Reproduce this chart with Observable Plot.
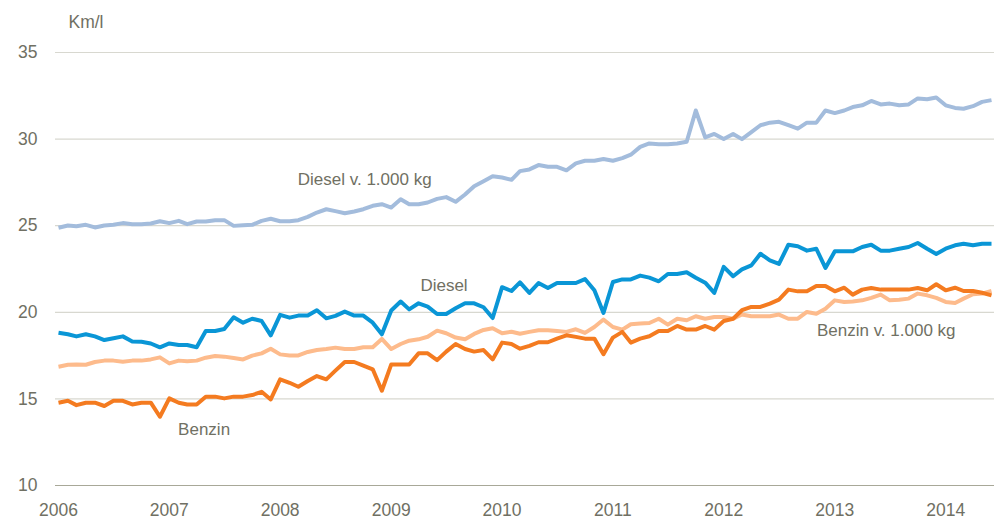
<!DOCTYPE html>
<html>
<head>
<meta charset="utf-8">
<script src="https://cdn.jsdelivr.net/npm/d3@7"></script>
<script src="https://cdn.jsdelivr.net/npm/@observablehq/plot@0.6"></script>
<style>
  html, body { margin: 0; padding: 0; background: #fff; }
  #chart { width: 994px; height: 521px; }
</style>
</head>
<body>
<div id="chart"></div>
<script>
// Monthly observations, Jan 2006 – Jun 2014 (102 months)
const startMonth = new Date(Date.UTC(2006, 0, 1));
const endMonth = new Date(Date.UTC(2014, 5, 1));
const months = d3.utcMonth.range(startMonth, d3.utcMonth.offset(endMonth, 1));

const seriesNames = ["Diesel v. 1.000 kg", "Benzin v. 1.000 kg", "Diesel", "Benzin"];

const dieselKg = [
  24.88, 25.01, 24.97, 25.05, 24.9, 25.01, 25.05, 25.15, 25.09, 25.09, 25.13, 25.26,
  25.15, 25.28, 25.09, 25.24, 25.24, 25.32, 25.32, 24.99, 25.03, 25.05, 25.28, 25.4,
  25.26, 25.26, 25.32, 25.51, 25.76, 25.95, 25.84, 25.72, 25.82, 25.95, 26.15, 26.24,
  26.05, 26.53, 26.24, 26.24, 26.34, 26.55, 26.65, 26.38, 26.8, 27.28, 27.57, 27.86,
  27.78, 27.65, 28.15, 28.25, 28.5, 28.4, 28.4, 28.2, 28.6, 28.75, 28.75, 28.85,
  28.75, 28.9, 29.1, 29.55, 29.75, 29.7, 29.7, 29.75, 29.85, 31.65, 30.1, 30.3,
  30.0, 30.3, 30.0, 30.4, 30.8, 30.95, 31.0, 30.8, 30.6, 30.95, 30.95, 31.65,
  31.5, 31.65, 31.85, 31.95, 32.2, 32.0, 32.05, 31.95, 32.0, 32.35, 32.3, 32.4,
  31.95, 31.8, 31.75, 31.9, 32.15, 32.25
];

const diesel = [
  18.82, 18.73, 18.61, 18.73, 18.61, 18.4, 18.5, 18.61, 18.32, 18.3, 18.2, 17.98,
  18.2, 18.11, 18.11, 17.98, 18.92, 18.92, 19.04, 19.71, 19.4, 19.63, 19.5, 18.67,
  19.85, 19.69, 19.81, 19.81, 20.12, 19.65, 19.79, 20.04, 19.81, 19.81, 19.4, 18.73,
  20.1, 20.62, 20.17, 20.52, 20.33, 19.9, 19.9, 20.23, 20.52, 20.52, 20.29, 19.67,
  21.45, 21.23, 21.73, 21.12, 21.69, 21.4, 21.69, 21.69, 21.69, 21.92, 21.27, 19.96,
  21.75, 21.9, 21.9, 22.12, 22.0, 21.79, 22.21, 22.21, 22.31, 22.0, 21.71, 21.12,
  22.62, 22.08, 22.48, 22.71, 23.38, 23.0, 22.79, 23.9, 23.81, 23.56, 23.67, 22.56,
  23.52, 23.52, 23.52, 23.77, 23.9, 23.56, 23.56, 23.67, 23.77, 24.0, 23.67, 23.37,
  23.67, 23.87, 23.96, 23.87, 23.96, 23.96
];

const benzinKg = [
  16.86, 16.97, 16.99, 16.97, 17.13, 17.21, 17.21, 17.15, 17.21, 17.21, 17.28, 17.4,
  17.05, 17.21, 17.17, 17.21, 17.38, 17.48, 17.44, 17.36, 17.28, 17.5, 17.63, 17.9,
  17.57, 17.5, 17.51, 17.71, 17.82, 17.88, 17.96, 17.88, 17.88, 17.98, 17.98, 18.46,
  17.88, 18.17, 18.36, 18.44, 18.59, 18.94, 18.79, 18.54, 18.44, 18.75, 18.98, 19.08,
  18.79, 18.88, 18.76, 18.87, 18.96, 18.96, 18.92, 18.87, 19.02, 18.81, 19.15, 19.58,
  19.15, 19.0, 19.31, 19.35, 19.38, 19.63, 19.29, 19.63, 19.54, 19.77, 19.63, 19.73,
  19.73, 19.63, 19.87, 19.77, 19.77, 19.77, 19.87, 19.63, 19.63, 20.02, 19.92, 20.21,
  20.69, 20.6, 20.63, 20.69, 20.83, 21.02, 20.69, 20.73, 20.79, 21.08, 20.98, 20.83,
  20.6, 20.54, 20.79, 21.04, 21.08, 21.23
];

const benzin = [
  14.78, 14.89, 14.64, 14.78, 14.78, 14.59, 14.89, 14.89, 14.68, 14.78, 14.78, 13.97,
  15.03, 14.78, 14.68, 14.68, 15.13, 15.13, 15.03, 15.13, 15.13, 15.22, 15.41, 14.97,
  16.13, 15.93, 15.7, 16.03, 16.32, 16.13, 16.63, 17.13, 17.13, 16.92, 16.71, 15.47,
  16.99, 16.99, 16.99, 17.63, 17.63, 17.24, 17.73, 18.17, 17.88, 17.73, 17.82, 17.28,
  18.25, 18.17, 17.9, 18.06, 18.27, 18.27, 18.48, 18.67, 18.58, 18.48, 18.48, 17.58,
  18.54, 18.87, 18.25, 18.48, 18.62, 18.92, 18.92, 19.21, 19.0, 19.0, 19.21, 19.0,
  19.5, 19.63, 20.12, 20.31, 20.31, 20.5, 20.73, 21.31, 21.21, 21.21, 21.52, 21.52,
  21.21, 21.42, 21.02, 21.31, 21.4, 21.31, 21.31, 21.31, 21.31, 21.4, 21.27, 21.62,
  21.27, 21.42, 21.23, 21.23, 21.13, 20.98
];

const seriesValues = [dieselKg, benzinKg, diesel, benzin];
const seriesColors = ["#a3bcdc", "#fdbb8c", "#0a96d6", "#f47b20"];

const yTicks = [10, 15, 20, 25, 30, 35];
const xTickYears = [2006, 2007, 2008, 2009, 2010, 2011, 2012, 2013, 2014];
const unitLabel = "Km/l";

// Series label anchor points (data units)
const labelNames = ["Diesel v. 1.000 kg", "Diesel", "Benzin", "Benzin v. 1.000 kg"];
const labelDates = [new Date(Date.UTC(2008, 1, 28)), new Date(Date.UTC(2009, 3, 7)), new Date(Date.UTC(2007, 0, 30)), new Date(Date.UTC(2012, 10, 3))];
const labelValues = [27.67, 21.55, 13.23, 18.95];

const rows = [];
seriesNames.forEach((name, s) => {
  seriesValues[s].forEach((v, i) => rows.push({series: name, date: months[i], value: v}));
});
const labels = labelNames.map((t, i) => ({text: t, date: labelDates[i], value: labelValues[i]}));

const textColor = "#707063";

const chart = Plot.plot({
  width: 994,
  height: 521,
  marginLeft: 58,
  marginRight: 3,
  marginTop: 52,
  marginBottom: 36,
  style: {fontFamily: "'Liberation Sans', Arial, sans-serif", fontSize: "17.5px", color: textColor, background: "#fff", overflow: "visible"},
  x: {type: "utc", domain: [startMonth, endMonth]},
  y: {domain: [10, 35]},
  color: {domain: seriesNames, range: seriesColors},
  marks: [
    Plot.ruleY(yTicks.filter(d => d > 10), {stroke: "#d8d8d0", strokeWidth: 1.2, insetLeft: -3, insetRight: -3}),
    Plot.ruleY([10], {stroke: "#a8a898", strokeWidth: 1.2, insetLeft: -3, insetRight: -3}),
    Plot.axisY({ticks: yTicks, tickSize: 0, tickPadding: 21, label: null, fontSize: 17.5}),
    Plot.axisX({ticks: xTickYears.map(y => new Date(Date.UTC(y, 0, 1))), tickFormat: d3.utcFormat("%Y"), tickSize: 0, tickPadding: 18, label: null, fontSize: 17.5}),
    Plot.lineY(rows, {x: "date", y: "value", z: "series", stroke: "series", strokeWidth: 4, strokeLinejoin: "round", strokeLinecap: "butt"}),
    Plot.text(labels, {x: "date", y: "value", text: "text", textAnchor: "start", lineAnchor: "middle", fill: textColor, fontSize: 17}),
    Plot.text([unitLabel], {frameAnchor: "top-left", text: d => d, dx: 10, dy: -30, textAnchor: "start", lineAnchor: "middle", fill: textColor, fontSize: 17.5})
  ]
});
document.getElementById("chart").appendChild(chart);
</script>
</body>
</html>
